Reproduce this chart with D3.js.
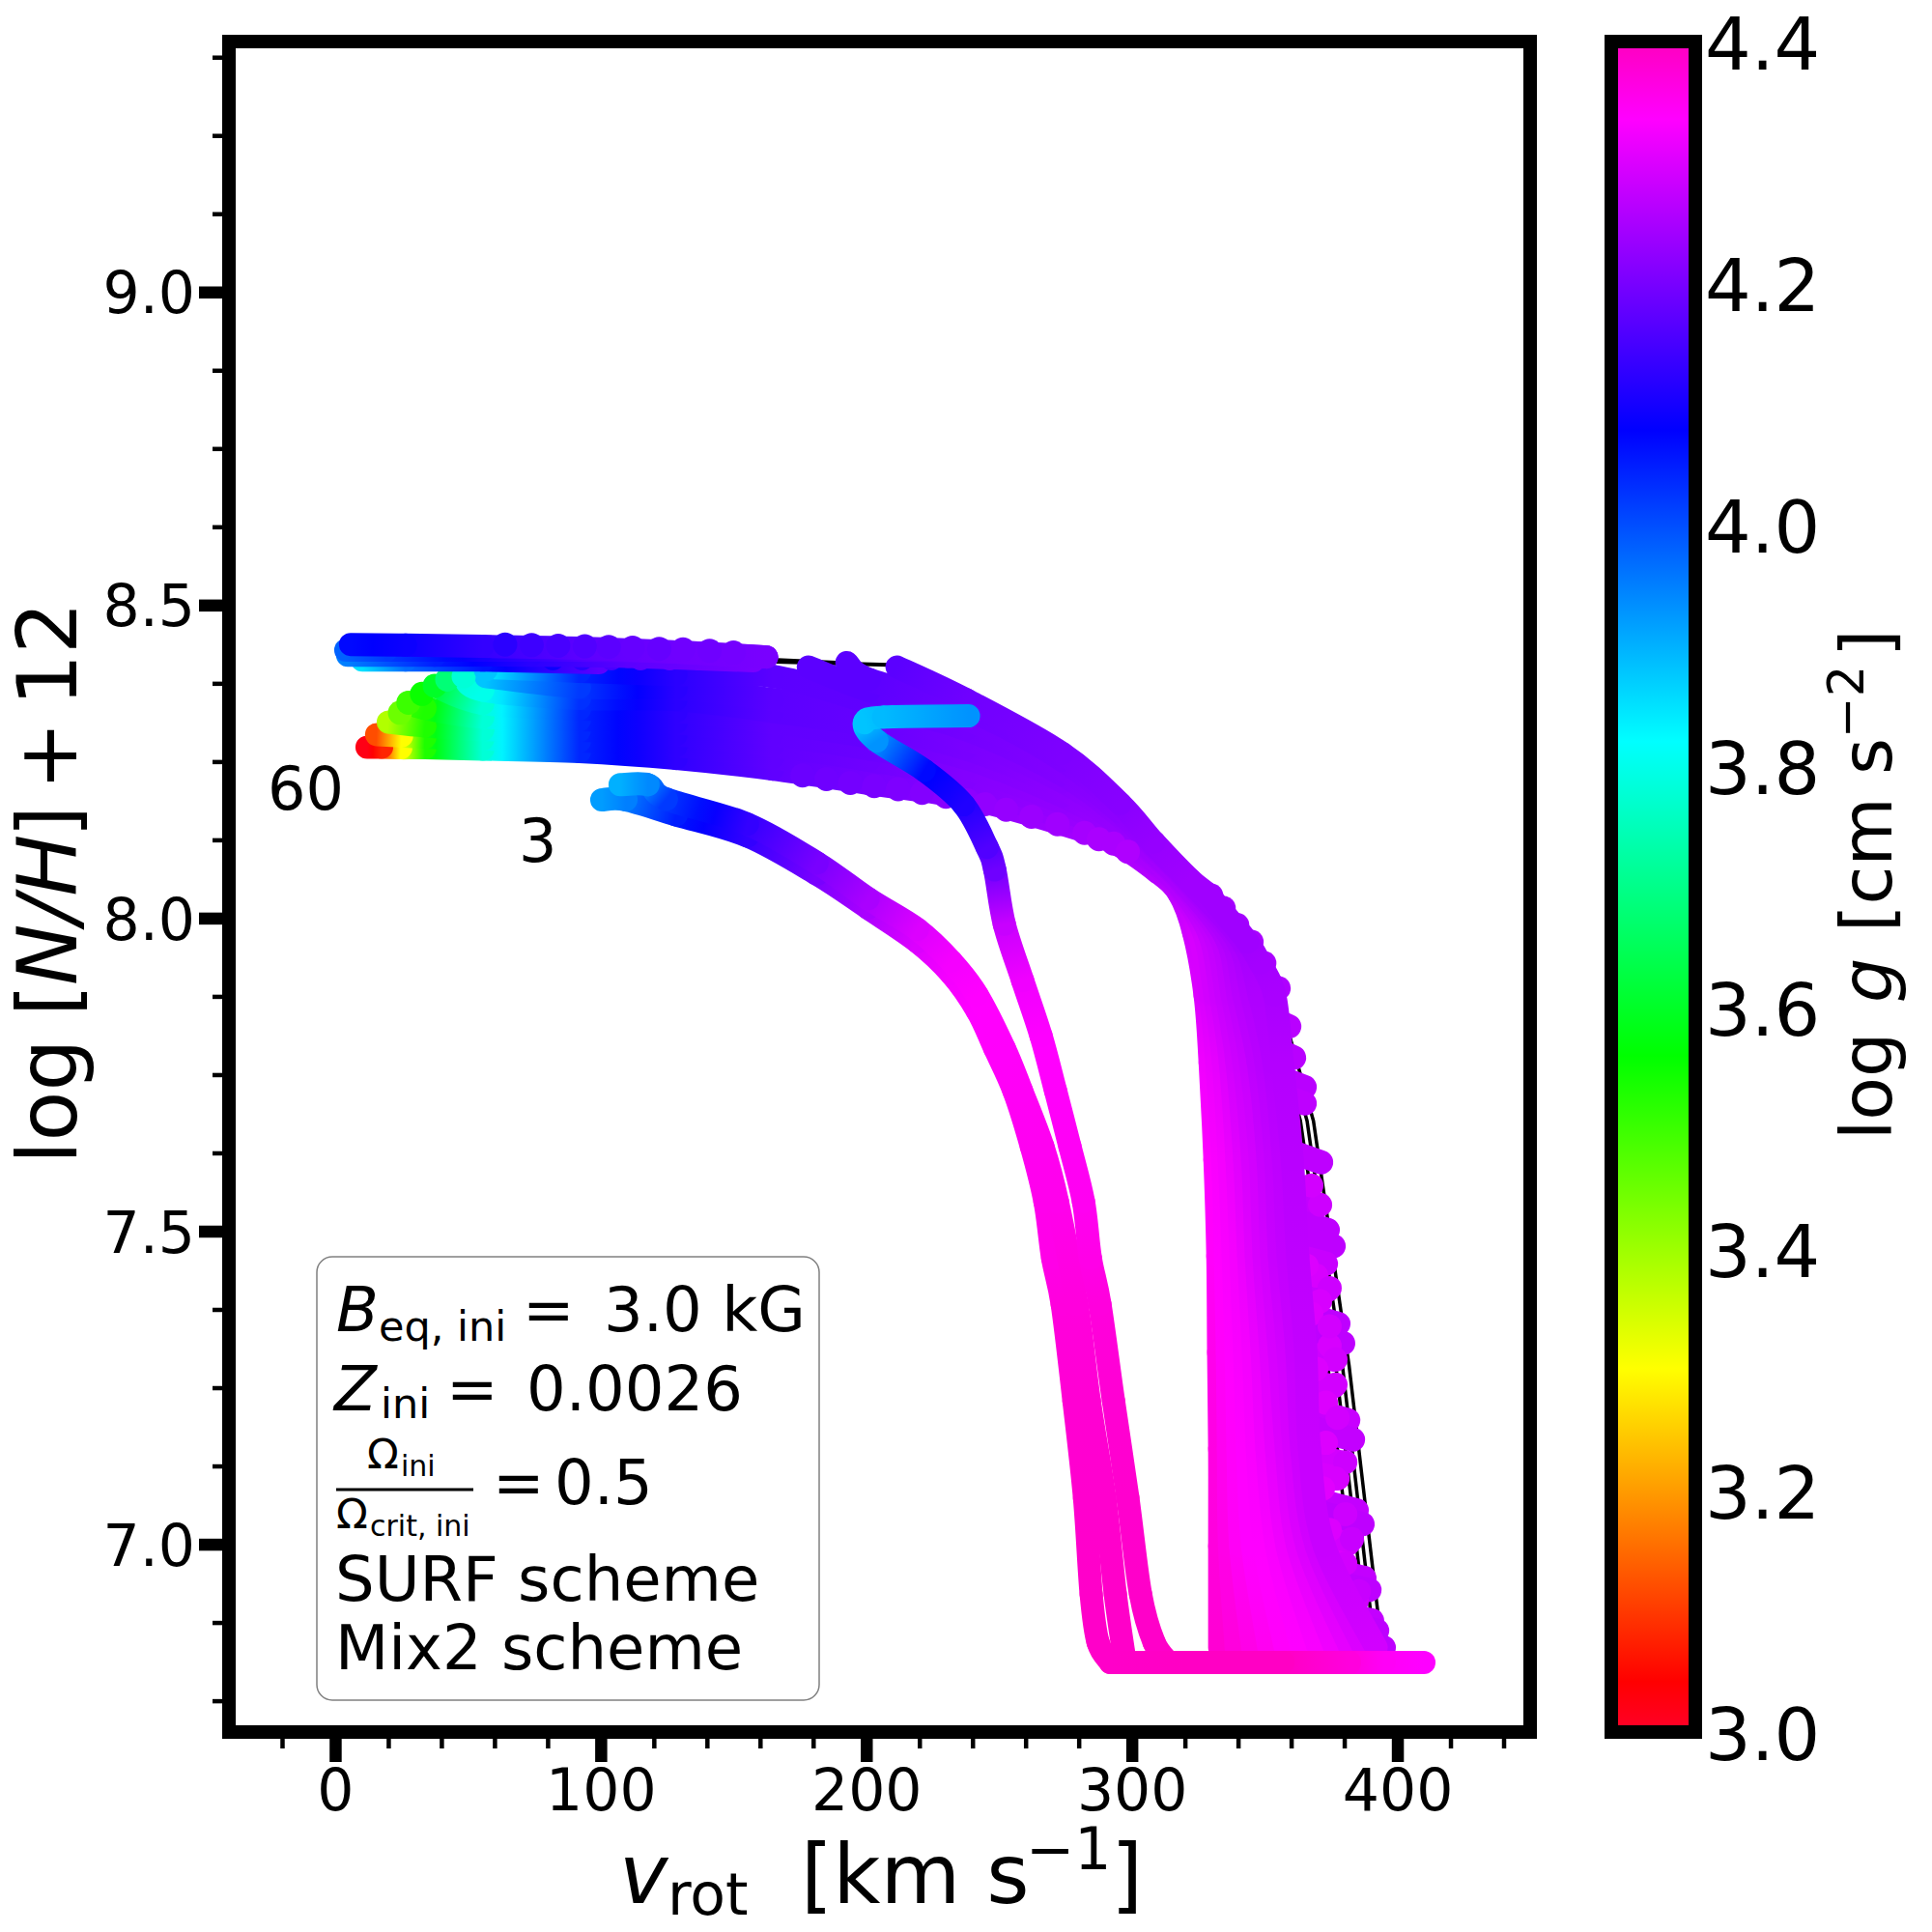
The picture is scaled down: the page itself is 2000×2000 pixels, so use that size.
<!DOCTYPE html>
<html>
<head>
<meta charset="utf-8">
<script src="https://cdn.jsdelivr.net/npm/d3@7"></script>
<style>
	body { margin: 0; background: #fff; }
	text { font-family: "DejaVu Sans", sans-serif; fill: #000; }
</style>
</head>
<body>
<svg id="chart" width="2000" height="2000"></svg>
<script>
// axis limits and ticks
var xLimits = [-40, 450],
	yLimits = [6.7, 9.4],
	gLimits = [3.0, 4.4];

var xMajor = [0, 100, 200, 300, 400],
	xMinor = [-20, 20, 40, 60, 80, 120, 140, 160, 180, 220, 240, 260, 280, 320, 340, 360, 380, 420, 440],
	yMajor = [7.0, 7.5, 8.0, 8.5, 9.0],
	yMinor = [6.75, 6.875, 7.125, 7.25, 7.375, 7.625, 7.75, 7.875, 8.125, 8.25, 8.375, 8.625, 8.75, 8.875, 9.125, 9.25, 9.375],
	gTicks = [3.0, 3.2, 3.4, 3.6, 3.8, 4.0, 4.2, 4.4];

// gist_rainbow colormap stops
var cmapPos = [0, 0.03, 0.215, 0.4, 0.586, 0.77, 0.954, 1],
	cmapColors = ["#ff0029", "#ff0000", "#ffff00", "#00ff00", "#00ffff", "#0000ff", "#ff00ff", "#ff00bf"];

// evolutionary tracks, each point is [v_rot, log N/H + 12, log g]
var band0 = [[333.1,6.835,4.38],[333.1,6.997,4.37],[333.1,7.152,4.365],[332.7,7.306,4.355],[332.4,7.46,4.34],[331.3,7.614,4.335],[329.5,7.769,4.32],[327.6,7.877,4.3],[323.3,7.977,4.29],[317.8,8.039,4.27],[309.5,8.074,4.26],[293.1,8.121,4.25],[273.8,8.15,4.24],[237.5,8.192,4.22],[201.1,8.215,4.2],[164.7,8.238,4.175],[128.4,8.255,4.125],[92,8.266,4.04],[55.6,8.27,3.78],[33.8,8.272,3.53],[24.7,8.272,3.3],[17.5,8.273,3.08],[12,8.273,3.02]];
var band1 = [[339.3,6.835,4.37],[336.8,6.997,4.36],[336.4,7.152,4.35],[336,7.306,4.34],[335.3,7.46,4.335],[334.2,7.614,4.33],[332,7.769,4.315],[329.5,7.877,4.295],[325.3,7.976,4.295],[318.2,8.042,4.27],[309.3,8.079,4.26],[293.3,8.127,4.245],[273.8,8.161,4.235],[237.5,8.207,4.215],[201.1,8.233,4.195],[164.7,8.256,4.175],[128.4,8.275,4.125],[92,8.283,4.04],[55.6,8.286,3.78],[33.8,8.289,3.53],[25,8.291,3.3],[15.6,8.293,3.12]];
var band2 = [[345.5,6.835,4.36],[341,6.997,4.345],[340,7.152,4.34],[339.3,7.306,4.335],[338.2,7.46,4.33],[336.7,7.614,4.325],[334.5,7.769,4.31],[331.3,7.877,4.29],[327.3,7.974,4.29],[318.6,8.044,4.265],[309.2,8.084,4.255],[293.6,8.134,4.24],[273.8,8.173,4.23],[237.5,8.223,4.21],[201.1,8.252,4.19],[164.7,8.275,4.175],[128.4,8.293,4.125],[92,8.3,4.04],[55.6,8.301,3.78],[33.8,8.307,3.53],[20,8.313,3.38]];
var band3 = [[351.6,6.835,4.35],[345.5,6.997,4.335],[343.6,7.152,4.335],[342.5,7.306,4.33],[341.1,7.46,4.325],[339.6,7.614,4.315],[337.1,7.769,4.3],[333.5,7.877,4.285],[329.4,7.972,4.28],[319,8.046,4.26],[309.1,8.088,4.25],[293.8,8.14,4.24],[273.8,8.184,4.225],[237.5,8.239,4.21],[201.1,8.27,4.185],[164.7,8.293,4.175],[128.4,8.312,4.125],[92,8.317,4.04],[55.6,8.321,3.78],[33.8,8.335,3.53],[27.6,8.344,3.5]];
var band4 = [[357.8,6.835,4.34],[350,6.997,4.335],[347.3,7.152,4.33],[345.8,7.306,4.325],[344,7.46,4.315],[342.5,7.614,4.305],[339.6,7.769,4.29],[335.6,7.877,4.28],[331.4,7.971,4.275],[319.4,8.049,4.26],[309,8.093,4.25],[294.1,8.146,4.235],[273.8,8.195,4.22],[237.5,8.255,4.205],[201.1,8.289,4.18],[164.7,8.312,4.175],[128.4,8.33,4.125],[92,8.334,4.04],[55.6,8.343,3.78],[37.5,8.371,3.6]];
var band5 = [[364,6.835,4.335],[354.5,6.997,4.33],[350.9,7.152,4.32],[349.1,7.306,4.315],[346.9,7.46,4.305],[345.5,7.614,4.295],[342.2,7.769,4.285],[337.8,7.877,4.275],[333.5,7.969,4.27],[319.8,8.051,4.255],[308.9,8.098,4.245],[294.4,8.152,4.23],[273.8,8.207,4.22],[237.5,8.27,4.2],[201.1,8.307,4.18],[164.7,8.33,4.17],[128.4,8.349,4.12],[92,8.351,4.03],[55.6,8.364,3.8],[48.4,8.386,3.78]];
var band6 = [[370.2,6.835,4.33],[358.5,6.997,4.32],[354.5,7.152,4.31],[352.4,7.306,4.305],[349.8,7.46,4.295],[348.4,7.614,4.29],[344.7,7.769,4.28],[340,7.877,4.27],[335.5,7.968,4.26],[320.2,8.053,4.25],[308.8,8.102,4.24],[294.6,8.158,4.23],[273.8,8.218,4.215],[237.5,8.286,4.2],[201.1,8.326,4.18],[164.7,8.349,4.17],[128.4,8.367,4.12],[92,8.369,4.02],[56.7,8.386,3.88]];
var band7 = [[376.4,6.835,4.32],[362.5,6.997,4.31],[358.2,7.152,4.3],[355.6,7.306,4.295],[352.7,7.46,4.29],[351.3,7.614,4.28],[347.6,7.769,4.27],[342.2,7.877,4.265],[337.5,7.966,4.255],[320.6,8.056,4.25],[308.7,8.107,4.24],[294.9,8.164,4.225],[273.8,8.229,4.21],[237.5,8.301,4.195],[201.1,8.344,4.175],[164.7,8.386,4.17],[128.4,8.389,4.12],[92,8.394,4.04],[60,8.4,3.85]];
var band8 = [[382.2,6.835,4.31],[366,6.997,4.3],[361.1,7.152,4.295],[358.9,7.306,4.29],[355.6,7.46,4.28],[354.2,7.614,4.275],[350.5,7.769,4.265],[345.1,7.877,4.26],[339.6,7.965,4.25],[321,8.058,4.245],[308.6,8.112,4.235],[295.1,8.17,4.22],[273.8,8.239,4.21],[237.5,8.318,4.195],[201.1,8.363,4.17],[178.2,8.401,4.17]];
var band9 = [[387.3,6.835,4.3],[369.5,6.997,4.29],[364,7.152,4.285],[362.2,7.306,4.28],[358.9,7.46,4.275],[357.1,7.614,4.27],[353.5,7.769,4.26],[348,7.877,4.255],[341.6,7.963,4.245],[321.4,8.06,4.24],[308.5,8.116,4.23],[295.4,8.177,4.22],[273.8,8.252,4.205],[237.5,8.334,4.19],[201.1,8.381,4.17],[192.7,8.408,4.17]];
var band10 = [[392,6.835,4.29],[372.5,6.997,4.28],[366.9,7.152,4.28],[365.5,7.306,4.275],[362.5,7.46,4.27],[360.4,7.614,4.265],[356.7,7.769,4.26],[353.8,7.877,4.25],[348.4,7.928,4.245],[343.6,7.962,4.24],[338.2,7.99,4.24],[333.1,8.016,4.24],[328.4,8.039,4.24],[321.8,8.062,4.24],[308.4,8.121,4.23],[295.6,8.183,4.215],[273.8,8.263,4.205],[237.5,8.349,4.19],[211.6,8.401,4.17]];

// flat top plateau, drawn over the band
var plateau4 = [[99.3,8.408,4.17],[55.6,8.412,4.06],[26.5,8.412,3.97],[10.2,8.412,3.85]];
var plateau3 = [[157.5,8.411,4.2],[110.2,8.418,4.17],[73.8,8.42,4.12],[37.5,8.42,4.05],[4.7,8.42,3.95]];
var plateau2 = [[162.5,8.417,4.2],[128.4,8.425,4.19],[92,8.428,4.16],[55.6,8.428,4.1],[19.3,8.428,4.02],[4,8.428,3.98]];
var plateau1 = [[162.5,8.417,4.2],[128.4,8.425,4.19],[92,8.431,4.17],[55.6,8.434,4.13],[26.5,8.436,4.09],[5.8,8.437,4.07]];

// three separate low mass tracks
var lowA = [[292,6.811,4.39],[287.3,6.843,4.39],[284.7,6.92,4.39],[282.2,7.074,4.385],[278.2,7.229,4.38],[273.8,7.383,4.37],[270.2,7.457,4.36],[267.3,7.547,4.355],[262.2,7.635,4.35],[255.6,7.724,4.345],[248.4,7.792,4.34],[241.8,7.852,4.335],[232,7.911,4.325],[219.3,7.962,4.3],[200.7,8.016,4.25],[181.5,8.07,4.2],[155.3,8.131,4.13],[128.4,8.165,4.05],[109.5,8.189,3.95],[100.4,8.189,3.92]];
var lowB = [[297.5,6.811,4.39],[293.8,6.92,4.39],[289.8,7.074,4.385],[284,7.229,4.38],[279.3,7.383,4.37],[272,7.547,4.355],[266.5,7.635,4.35],[258.5,7.724,4.345],[252,7.792,4.34],[241.8,7.877,4.335],[232,7.931,4.325],[219.3,7.982,4.3],[200.7,8.031,4.25],[181.5,8.088,4.2],[155.3,8.15,4.13],[124.7,8.19,4.02],[117.8,8.213,3.94],[107.3,8.213,3.9]];
var lowC = [[313.8,6.811,4.39],[308.4,6.843,4.39],[303.3,6.92,4.39],[298.5,7.074,4.385],[293.1,7.229,4.38],[288,7.383,4.37],[284.4,7.457,4.36],[281.8,7.547,4.35],[276.7,7.635,4.345],[271.3,7.724,4.34],[265.8,7.812,4.335],[258.9,7.9,4.32],[252,7.99,4.28],[248.4,8.077,4.19],[245.5,8.113,4.16],[236.7,8.181,4.11],[221.8,8.236,4.07],[204,8.283,3.93],[199.3,8.312,3.88],[206.5,8.321,3.89],[238.5,8.323,3.93]];

// horizontal strip of first points at the bottom
var startStrip = [[410,6.811,4.335],[395,6.811,4.345],[382,6.811,4.37],[357,6.811,4.395],[320,6.811,4.395],[292,6.811,4.39]];

// thin black lines seen behind the points
var blackN = [6.824, 6.889, 7.286, 7.368, 7.676, 7.858];
var blackV1 = [395.6, 392.7, 381.8, 378.9, 368.4, 356.4],
	blackV2 = [393, 390, 379.3, 376.4, 366, 354],
	blackV3 = [390.5, 387.5, 376.8, 374, 363.5, 352],
	blackV4 = [387.5, 384.5, 373.8, 371, 360.5, 349],
	blackV5 = [383.5, 380.5, 369.8, 367, 356.5, 346],
	blackV6 = [379.5, 376.5, 365.8, 363, 353, 343];
var gapLine1 = [[162.5,8.413],[192.7,8.407]],
	gapLine2 = [[162.5,8.41],[211.6,8.404]];

// outermost points on the right edge, each with a short tail
var tipV = [353.1,359.3,361.1,365.1,365.1,371.3,370.2,373.8,376,373.1,373.8,377.8,379.6,376,376,381.5,383.3,378.5,377.5,384.7,386.9,381.5,379.3,387.6,389.5,384.7,390.5,392.4,394.9],
	tipN = [7.892,7.827,7.777,7.73,7.704,7.61,7.542,7.502,7.476,7.448,7.406,7.352,7.321,7.295,7.252,7.198,7.167,7.131,7.105,7.054,7.032,7.001,6.969,6.946,6.927,6.909,6.878,6.862,6.835],
	tipG = [4.26,4.265,4.265,4.265,4.27,4.27,4.275,4.27,4.27,4.28,4.28,4.27,4.27,4.285,4.29,4.28,4.275,4.29,4.295,4.275,4.27,4.29,4.3,4.275,4.27,4.29,4.275,4.27,4.27],
	tailV = [345,350,352,356,354,358,356,359,361,358,359,363,365,361,360,367,369,363,362,370,372,366,364,373,375,370,376,378,380],
	tailN = [7.91,7.845,7.795,7.745,7.72,7.63,7.56,7.52,7.495,7.465,7.42,7.37,7.34,7.31,7.265,7.215,7.185,7.145,7.12,7.07,7.05,7.015,6.985,6.96,6.94,6.92,6.89,6.875,6.845];

// loose points between the tips and the solid block
var innerV = [374.5,376.7,369.5,376.7,373.1,377.5,373.1,380.4,376.7,372,380.4,382.9,374.5,370.9,380.4,385.5,370.9,367.6,369.5,365.8,374.5,370.9,367.6,374.5],
	innerN = [7.317,7.295,7.28,7.255,7.226,7.202,7.162,7.131,7.105,7.089,7.048,7.008,7.023,6.982,6.969,6.925,7.542,7.573,7.429,7.445,7.409,7.388,7.368,7.348],
	innerG = [4.295,4.29,4.3,4.29,4.3,4.29,4.3,4.285,4.295,4.305,4.285,4.28,4.3,4.31,4.29,4.28,4.285,4.29,4.295,4.3,4.285,4.295,4.3,4.29];

// single points along the band edges and the left diagonal
var edgeV = [176,185,194,203,212,221,230,238,244.7,252.7,262.2,272,282.2,287.6,293.1,298.5],
	edgeN = [8.228,8.222,8.216,8.211,8.206,8.2,8.194,8.188,8.182,8.173,8.162,8.15,8.136,8.126,8.119,8.106],
	edgeG = [4.185,4.19,4.195,4.2,4.205,4.21,4.215,4.22,4.225,4.23,4.235,4.24,4.245,4.25,4.25,4.255],
	shoulderV = [326.2,329.9,334.6,339.7,345.1,349.9,350.6,355.3],
	shoulderN = [8.043,8.036,8.016,7.989,7.962,7.928,7.905,7.888],
	shoulderG = [4.24,4.24,4.245,4.245,4.25,4.25,4.255,4.255],
	diagV = [24.4,27.6,32.7,37.5,42.2,48.4,56.7],
	diagN = [8.328,8.344,8.358,8.371,8.381,8.386,8.397],
	diagG = [3.45,3.5,3.55,3.6,3.68,3.78,3.88],
	plateauLowV = [158,148,137,126,115,104,93,82],
	plateauLowN = [8.415,8.415,8.415,8.415,8.415,8.415,8.415,8.415],
	plateauLowG = [4.2,4.195,4.19,4.18,4.17,4.15,4.12,4.09],
	plateauTopV = [150,141,131,122,112,103,94,84,74,64],
	plateauTopN = [8.424,8.427,8.429,8.43,8.432,8.433,8.434,8.435,8.436,8.437],
	plateauTopG = [4.195,4.19,4.19,4.18,4.18,4.17,4.16,4.15,4.14,4.12];

var svg = d3.select("#chart"),
	left = 237, right = 1584, top_ = 43, bottom = 1793,
	barLeft = 1668, barRight = 1755,
	markerSize = 24;

var x = d3.scaleLinear().domain(xLimits).range([left, right]),
	y = d3.scaleLinear().domain(yLimits).range([bottom, top_]),
	gScale = d3.scaleLinear().domain(gLimits).range([bottom, top_]);

var color = d3.scaleLinear()
	.domain(cmapPos.map(function(p) { return gLimits[0] + p * (gLimits[1] - gLimits[0]); }))
	.range(cmapColors)
	.clamp(true);

var defs = svg.append("defs"),
	gradCount = 0;

/* Draws one track as thick smooth segments, the colour runs along each segment */
function drawTrack(track) {
	var g = svg.append("g").attr("class", "track");
	var pts = track.map(function(d) { return [x(d[0]), y(d[1]), d[2]]; });

	for (var i = 0; i < pts.length - 1; i++)
	{
		var a = pts[i],
			b = pts[i + 1],
			before = pts[Math.max(i - 1, 0)],
			after = pts[Math.min(i + 2, pts.length - 1)],
			id = "seg" + (gradCount++);

		var grad = defs.append("linearGradient")
			.attr("id", id)
			.attr("gradientUnits", "userSpaceOnUse")
			.attr("x1", a[0]).attr("y1", a[1])
			.attr("x2", b[0]).attr("y2", b[1]);

		// several stops so colour follows the colormap and not a straight rgb blend
		d3.range(0, 1.01, 0.2).forEach(function(f) {
			grad.append("stop")
				.attr("offset", f)
				.attr("stop-color", color(a[2] + f * (b[2] - a[2])));
		});

		// bezier handles from the neighbours, so the track bends without corners
		var path = d3.path();
		path.moveTo(a[0], a[1]);
		path.bezierCurveTo(
			a[0] + (b[0] - before[0]) / 6, a[1] + (b[1] - before[1]) / 6,
			b[0] - (after[0] - a[0]) / 6, b[1] - (after[1] - a[1]) / 6,
			b[0], b[1]);

		g.append("path")
			.attr("d", path.toString())
			.attr("fill", "none")
			.attr("stroke", "url(#" + id + ")")
			.attr("stroke-width", markerSize)
			.attr("stroke-linecap", "round");
	}
}

/* Draws loose points from three arrays */
function drawDots(vs, ns, gs) {
	vs.forEach(function(v, i) {
		svg.append("circle")
			.attr("cx", x(v))
			.attr("cy", y(ns[i]))
			.attr("r", markerSize / 2 + 0.5)
			.attr("fill", color(gs[i]));
	});
}

// black lines first, the points cover them
var blackLine = d3.line().x(function(d) { return x(d[0]); }).y(function(d) { return y(d[1]); });
[blackV1, blackV2, blackV3, blackV4, blackV5, blackV6].forEach(function(vs) {
	svg.append("path")
		.attr("d", blackLine(vs.map(function(v, i) { return [v, blackN[i]]; })))
		.attr("fill", "none")
		.attr("stroke", "#000")
		.attr("stroke-width", 3.5);
});
[gapLine1, gapLine2].forEach(function(l) {
	svg.append("path")
		.attr("d", blackLine(l))
		.attr("fill", "none")
		.attr("stroke", "#000")
		.attr("stroke-width", 4);
});

// right edge tips
tipV.forEach(function(v, i) {
	svg.append("line")
		.attr("x1", x(tailV[i])).attr("y1", y(tailN[i]))
		.attr("x2", x(v)).attr("y2", y(tipN[i]))
		.attr("stroke", color(tipG[i]))
		.attr("stroke-width", markerSize + 1)
		.attr("stroke-linecap", "round");
});
drawDots(innerV, innerN, innerG);
drawDots(shoulderV, shoulderN, shoulderG);

[band0, band1, band2, band3, band4, band5, band6, band7, band8, band9, band10].forEach(drawTrack);

drawDots(edgeV, edgeN, edgeG);
drawDots(diagV, diagN, diagG);

drawTrack(plateau4);
drawDots(plateauLowV, plateauLowN, plateauLowG);
[plateau3, plateau2, plateau1].forEach(drawTrack);
drawDots(plateauTopV, plateauTopN, plateauTopG);

[lowA, lowB, lowC, startStrip].forEach(drawTrack);

// frame of the main axes
svg.append("rect")
	.attr("x", left).attr("y", top_)
	.attr("width", right - left).attr("height", bottom - top_)
	.attr("fill", "none")
	.attr("stroke", "#000")
	.attr("stroke-width", 14);

/* Applies the tick look to an axis group */
function styleAxis(sel, width) {
	sel.select(".domain").remove();
	sel.selectAll(".tick line").attr("stroke", "#000").attr("stroke-width", width);
	sel.selectAll(".tick text").style("font-size", "60px").style("font-family", "'DejaVu Sans'");
}

svg.append("g").attr("transform", "translate(0," + bottom + ")")
	.call(d3.axisBottom(x).tickValues(xMinor).tickSize(17).tickFormat(""))
	.call(styleAxis, 4.5);
svg.append("g").attr("transform", "translate(0," + bottom + ")")
	.call(d3.axisBottom(x).tickValues(xMajor).tickSize(31).tickPadding(7).tickFormat(d3.format("d")))
	.call(styleAxis, 12.5);
svg.append("g").attr("transform", "translate(" + left + ",0)")
	.call(d3.axisLeft(y).tickValues(yMinor).tickSize(17).tickFormat(""))
	.call(styleAxis, 4.5);
svg.append("g").attr("transform", "translate(" + left + ",0)")
	.call(d3.axisLeft(y).tickValues(yMajor).tickSize(31).tickPadding(4).tickFormat(d3.format(".1f")))
	.call(styleAxis, 12.5)
	.call(function(sel) { sel.selectAll(".tick text").attr("dy", "0.36em"); });

// colorbar
var barGrad = defs.append("linearGradient")
	.attr("id", "barGrad")
	.attr("x1", 0).attr("y1", 1).attr("x2", 0).attr("y2", 0);
cmapPos.forEach(function(p, i) {
	barGrad.append("stop").attr("offset", p).attr("stop-color", cmapColors[i]);
});
svg.append("rect")
	.attr("x", barLeft).attr("y", top_)
	.attr("width", barRight - barLeft).attr("height", bottom - top_)
	.attr("fill", "url(#barGrad)")
	.attr("stroke", "#000")
	.attr("stroke-width", 14);
svg.append("g").attr("transform", "translate(" + barRight + ",0)")
	.call(d3.axisRight(gScale).tickValues(gTicks).tickSize(0).tickPadding(10).tickFormat(d3.format(".1f")))
	.call(function(sel) {
		sel.select(".domain").remove();
		sel.selectAll(".tick text")
			.attr("dy", "0.38em")
			.style("font-size", "75px")
			.style("font-family", "'DejaVu Sans'");
	});

/* Puts a text piece on the svg, style is "i" for italic */
function addText(parent, str, px, py, size, style) {
	return parent.append("text")
		.attr("x", px).attr("y", py)
		.style("font-size", size + "px")
		.style("font-style", style == "i" ? "italic" : "normal")
		.text(str);
}

// axis titles
addText(svg, "v", 641, 1970, 85, "i");
addText(svg, "rot", 691, 1982, 60);
addText(svg, "[km s", 829, 1970, 85);
addText(svg, "\u22121", 1062, 1935, 60);
addText(svg, "]", 1150, 1970, 85);

var yTitle = svg.append("g").attr("transform", "translate(79,1205) rotate(-90)");
addText(yTitle, "log", 0, 0, 85);
addText(yTitle, "[", 153, 0, 85);
addText(yTitle, "N/H", 185, 0, 85, "i");
addText(yTitle, "]", 338, 0, 85);
addText(yTitle, "+", 387, 0, 85);
addText(yTitle, "12", 474, 0, 85);

var gTitle = svg.append("g").attr("transform", "translate(1958,1180) rotate(-90)");
addText(gTitle, "log ", 0, 0, 73);
addText(gTitle, "g", 142, 0, 73, "i");
addText(gTitle, "[cm s", 215, 0, 73);
addText(gTitle, "\u22122", 416, -29, 51);
addText(gTitle, "]", 500, 0, 73);

// track labels
addText(svg, "60", 277, 838, 62);
addText(svg, "3", 537, 892, 62);

// annotation box
var box = svg.append("g");
box.append("rect")
	.attr("x", 328).attr("y", 1301)
	.attr("width", 520).attr("height", 459)
	.attr("rx", 16)
	.attr("fill", "#fff")
	.attr("stroke", "#808080")
	.attr("stroke-width", 1.5);
addText(box, "B", 348, 1378, 64, "i");
addText(box, "eq, ini", 392, 1388, 43);
addText(box, "=", 541, 1378, 64);
addText(box, "3.0 kG", 625, 1378, 64);
addText(box, "Z", 346, 1460, 64, "i");
addText(box, "ini", 394, 1468, 43);
addText(box, "=", 462, 1460, 64);
addText(box, "0.0026", 545, 1460, 64);
addText(box, "\u03a9", 380, 1520, 43);
addText(box, "ini", 415, 1528, 30);
box.append("rect").attr("x", 348).attr("y", 1540.5).attr("width", 142).attr("height", 3).attr("fill", "#000");
addText(box, "\u03a9", 348, 1582, 43);
addText(box, "crit, ini", 383, 1590, 30);
addText(box, "=", 510, 1557, 64);
addText(box, "0.5", 574, 1557, 64);
addText(box, "SURF scheme", 347, 1657, 64);
addText(box, "Mix2 scheme", 347, 1728, 64);
</script>
</body>
</html>
